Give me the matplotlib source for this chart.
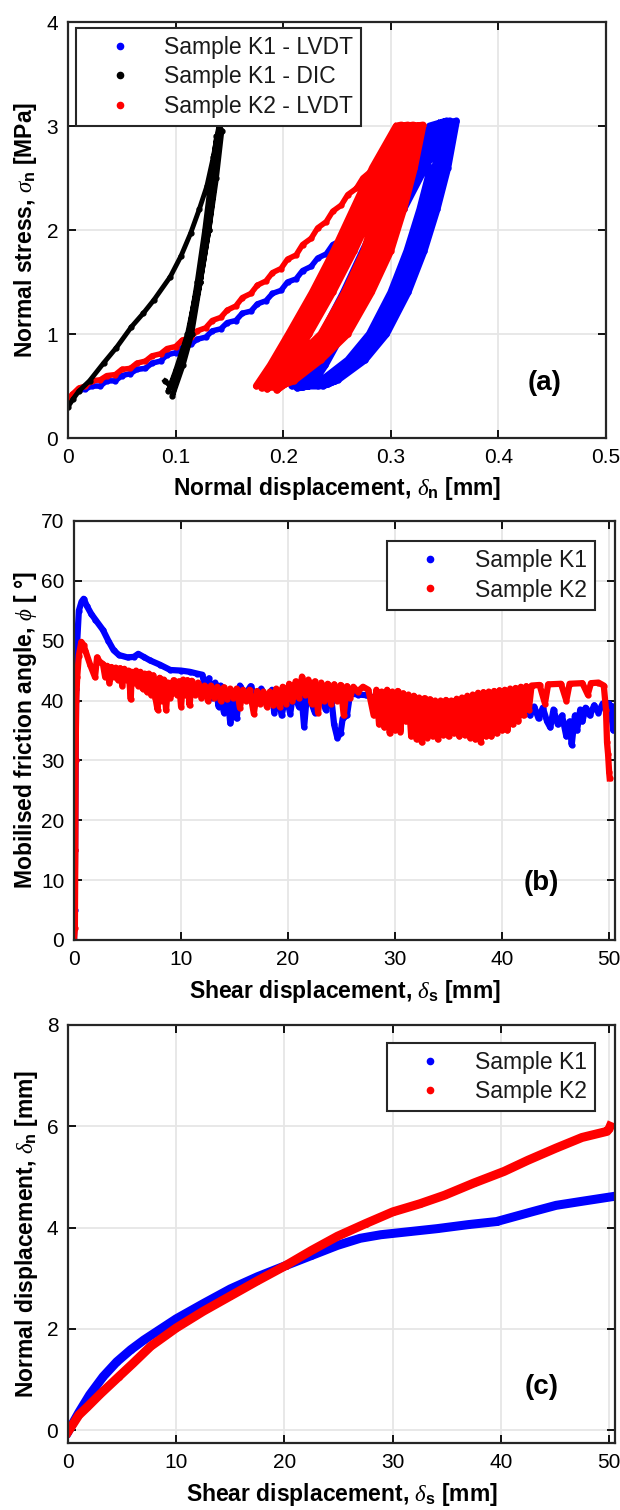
import matplotlib
matplotlib.use("Agg")
import matplotlib.pyplot as plt
from matplotlib.lines import Line2D

plt.rcParams['font.family'] = ['Liberation Sans', 'DejaVu Sans']
plt.rcParams['mathtext.fontset'] = 'custom'
plt.rcParams['mathtext.rm'] = 'Liberation Sans:bold'
plt.rcParams['mathtext.bf'] = 'Liberation Sans:bold'
plt.rcParams['mathtext.it'] = 'Liberation Serif:italic'

# --- (a) normal stress vs normal displacement ---
# K1 LVDT: first loading (stepped), then unload/reload loops
k1_load_x = [0.0, 0.004, 0.01, 0.016, 0.022, 0.03, 0.036, 0.044, 0.05, 0.058, 0.064, 0.072,
             0.078, 0.086, 0.092, 0.10, 0.106, 0.114, 0.12, 0.128, 0.134, 0.142, 0.148, 0.156,
             0.162, 0.17, 0.176, 0.184, 0.19, 0.198, 0.204, 0.212, 0.218, 0.226, 0.232, 0.24,
             0.246, 0.254, 0.26, 0.268, 0.274, 0.282, 0.30, 0.315, 0.33, 0.345]
k1_load_y = [0.35, 0.40, 0.46, 0.47, 0.50, 0.50, 0.55, 0.55, 0.60, 0.62, 0.66, 0.67,
             0.72, 0.74, 0.80, 0.82, 0.87, 0.90, 0.95, 0.97, 1.03, 1.05, 1.11, 1.13,
             1.20, 1.22, 1.29, 1.32, 1.39, 1.42, 1.50, 1.53, 1.61, 1.65, 1.73, 1.77,
             1.86, 1.90, 1.99, 2.03, 2.12, 2.17, 2.42, 2.60, 2.82, 3.03]
k1_loop_x = [0.337, 0.327, 0.315, 0.300, 0.280, 0.260, 0.235, 0.218, 0.208,
             0.220, 0.236, 0.256, 0.274, 0.293, 0.313, 0.336, 0.349,
             0.341, 0.331, 0.319, 0.304, 0.284, 0.264, 0.239, 0.223, 0.213,
             0.225, 0.241, 0.261, 0.279, 0.298, 0.318, 0.341, 0.352,
             0.344, 0.334, 0.322, 0.307, 0.287, 0.267, 0.242, 0.228, 0.218,
             0.230, 0.246, 0.266, 0.284, 0.303, 0.323, 0.346, 0.355,
             0.347, 0.337, 0.325, 0.310, 0.290, 0.270, 0.245, 0.232, 0.222,
             0.234, 0.250, 0.270, 0.288, 0.307, 0.327, 0.350, 0.358,
             0.350, 0.340, 0.328, 0.313, 0.293, 0.273, 0.248, 0.237, 0.227,
             0.239, 0.255, 0.275, 0.293, 0.312, 0.332, 0.354, 0.361,
             0.353, 0.343, 0.331, 0.316, 0.296, 0.276, 0.251, 0.242, 0.232]
k1_loop_y = [2.60, 2.20, 1.80, 1.40, 1.00, 0.75, 0.55, 0.52, 0.50,
             0.70, 1.00, 1.40, 1.80, 2.20, 2.60, 3.00, 3.04,
             2.60, 2.20, 1.80, 1.40, 1.00, 0.75, 0.55, 0.50, 0.48,
             0.70, 1.00, 1.40, 1.80, 2.20, 2.60, 3.00, 3.05,
             2.60, 2.20, 1.80, 1.40, 1.00, 0.75, 0.55, 0.51, 0.49,
             0.70, 1.00, 1.40, 1.80, 2.20, 2.60, 3.00, 3.05,
             2.60, 2.20, 1.80, 1.40, 1.00, 0.75, 0.55, 0.50, 0.50,
             0.70, 1.00, 1.40, 1.80, 2.20, 2.60, 3.00, 3.04,
             2.60, 2.20, 1.80, 1.40, 1.00, 0.75, 0.55, 0.50, 0.51,
             0.70, 1.00, 1.40, 1.80, 2.20, 2.60, 3.00, 3.05,
             2.60, 2.20, 1.80, 1.40, 1.00, 0.75, 0.56, 0.52, 0.52]

# K1 DIC
dic_x = [0.0, 0.005, 0.01, 0.02, 0.033, 0.045, 0.059, 0.07, 0.08, 0.095, 0.105, 0.114,
         0.122, 0.129, 0.135, 0.140,
         0.137, 0.131, 0.123, 0.113, 0.103, 0.097,
         0.107, 0.115, 0.123, 0.129, 0.135, 0.141,
         0.136, 0.129, 0.121, 0.111, 0.100, 0.093,
         0.103, 0.112, 0.120, 0.127, 0.133, 0.138, 0.143,
         0.138, 0.131, 0.123, 0.113, 0.104, 0.095, 0.090]
dic_y = [0.30, 0.38, 0.45, 0.55, 0.72, 0.87, 1.07, 1.20, 1.33, 1.55, 1.75, 1.97,
         2.20, 2.42, 2.70, 2.99,
         2.50, 2.00, 1.50, 1.00, 0.65, 0.40,
         0.70, 1.00, 1.50, 2.00, 2.50, 2.97,
         2.50, 2.00, 1.50, 1.00, 0.65, 0.45,
         0.70, 1.00, 1.50, 2.00, 2.50, 2.90, 2.95,
         2.50, 2.00, 1.50, 1.00, 0.70, 0.50, 0.55]

# K2 LVDT
k2_load_x = [0.0, 0.004, 0.01, 0.016, 0.022, 0.03, 0.036, 0.044, 0.05, 0.058, 0.064, 0.072,
             0.078, 0.086, 0.092, 0.10, 0.106, 0.114, 0.12, 0.128, 0.134, 0.142, 0.148, 0.156,
             0.162, 0.17, 0.176, 0.184, 0.19, 0.198, 0.204, 0.212, 0.218, 0.226, 0.232, 0.24,
             0.246, 0.254, 0.26, 0.268, 0.274, 0.282, 0.29, 0.298, 0.305]
k2_load_y = [0.36, 0.42, 0.48, 0.50, 0.55, 0.56, 0.60, 0.61, 0.66, 0.67, 0.72, 0.74,
             0.79, 0.81, 0.86, 0.88, 0.94, 0.97, 1.03, 1.06, 1.13, 1.16, 1.23, 1.27,
             1.35, 1.39, 1.47, 1.51, 1.59, 1.63, 1.72, 1.76, 1.86, 1.92, 2.02, 2.08,
             2.18, 2.24, 2.34, 2.40, 2.50, 2.57, 2.72, 2.86, 3.00]
k2_loop_x = [0.297, 0.287, 0.275, 0.257, 0.235, 0.210, 0.185, 0.175,
             0.188, 0.205, 0.227, 0.247, 0.265, 0.283, 0.305, 0.310,
             0.302, 0.292, 0.280, 0.262, 0.240, 0.215, 0.190, 0.180,
             0.193, 0.210, 0.232, 0.252, 0.270, 0.288, 0.310, 0.316,
             0.308, 0.298, 0.286, 0.268, 0.246, 0.221, 0.196, 0.185,
             0.198, 0.215, 0.237, 0.257, 0.275, 0.293, 0.315, 0.321,
             0.313, 0.303, 0.291, 0.273, 0.251, 0.226, 0.201, 0.190,
             0.203, 0.220, 0.242, 0.262, 0.280, 0.298, 0.320, 0.326,
             0.318, 0.308, 0.296, 0.278, 0.256, 0.231, 0.206, 0.194,
             0.207, 0.224, 0.246, 0.266, 0.284, 0.302, 0.324, 0.330,
             0.322, 0.312, 0.300, 0.282, 0.260, 0.235, 0.210, 0.197]
k2_loop_y = [2.60, 2.20, 1.80, 1.40, 1.00, 0.75, 0.55, 0.50,
             0.70, 1.00, 1.40, 1.80, 2.20, 2.60, 3.00, 3.01,
             2.60, 2.20, 1.80, 1.40, 1.00, 0.75, 0.55, 0.48,
             0.70, 1.00, 1.40, 1.80, 2.20, 2.60, 3.00, 3.01,
             2.60, 2.20, 1.80, 1.40, 1.00, 0.75, 0.55, 0.47,
             0.70, 1.00, 1.40, 1.80, 2.20, 2.60, 3.00, 3.01,
             2.60, 2.20, 1.80, 1.40, 1.00, 0.75, 0.55, 0.49,
             0.70, 1.00, 1.40, 1.80, 2.20, 2.60, 3.00, 3.00,
             2.60, 2.20, 1.80, 1.40, 1.00, 0.75, 0.55, 0.46,
             0.70, 1.00, 1.40, 1.80, 2.20, 2.60, 3.00, 3.01,
             2.60, 2.20, 1.80, 1.40, 1.00, 0.75, 0.55, 0.50]

# --- (b) mobilised friction angle vs shear displacement (x [mm], phi [deg]) ---
phi_k1 = [(0, 0), (0.05, 5), (0.1, 15), (0.15, 30), (0.2, 42), (0.3, 50), (0.45, 55),
          (0.7, 56.5), (0.9, 57), (1.2, 55.8), (1.6, 54.5), (2.0, 53.5), (2.7, 51.8),
          (3.2, 50.0), (3.7, 48.4), (4.2, 47.6), (5.0, 47.2), (5.6, 47.3), (6.0, 47.8),
          (6.5, 47.3), (7.1, 46.7), (8.0, 46.0), (9.0, 45.1), (10.0, 45.0), (10.8, 44.8),
          (11.5, 44.5), (12.0, 44.3), (12.3, 41.5), (12.6, 43.7), (12.9, 40.5), (13.2, 43.0),
          (13.5, 39.0), (13.7, 42.5), (14.0, 38.0), (14.3, 41.5), (14.6, 36.2), (14.9, 40.5),
          (15.2, 37.0), (15.5, 42.5), (16.0, 41.0), (16.5, 42.4), (17.0, 40.5), (17.5, 42.0),
          (18.0, 40.0), (18.5, 41.8), (18.7, 38.0), (19.0, 41.5), (19.4, 37.5), (19.8, 41.0),
          (20.2, 37.8), (20.5, 41.5), (21.0, 39.0), (21.2, 42.0), (21.5, 35.6), (21.8, 41.8),
          (22.2, 39.5), (22.5, 38.0), (23.0, 41.5), (23.5, 38.5), (24.0, 41.0), (24.3, 36.0),
          (24.6, 33.8), (24.9, 34.5), (25.1, 37.0), (25.5, 37.5), (25.8, 41.2), (26.5, 41.0),
          (27.3, 40.9), (28.0, 40.5), (29.0, 38.0), (30.0, 40.0), (30.5, 36.0), (31.0, 40.0),
          (35.0, 39.5), (40.0, 40.0), (42.3, 39.5), (42.6, 37.5), (43.0, 39.0), (43.4, 37.0),
          (43.8, 38.8), (44.2, 36.5), (44.5, 35.5), (44.8, 38.5), (45.2, 36.0), (45.6, 37.5),
          (46.0, 34.0), (46.3, 36.5), (46.5, 32.6), (46.8, 37.5), (47.0, 35.0), (47.3, 38.5),
          (47.5, 36.5), (47.8, 38.8), (48.2, 37.5), (48.6, 39.2), (49.0, 38.0), (49.4, 39.5),
          (50.0, 39.5), (50.2, 37.5), (50.4, 35.0), (50.5, 39.0)]

phi_k2 = [(0, 0), (0.08, 2), (0.12, 15), (0.15, 30), (0.2, 40), (0.3, 44), (0.45, 47.5),
          (0.68, 49.8), (0.9, 49.2), (1.07, 48.3), (1.5, 46.0), (1.96, 43.9), (2.15, 47.2),
          (2.4, 46.5), (2.7, 46.1), (2.9, 44.0), (3.1, 45.8), (3.3, 43.0), (3.5, 45.6),
          (3.7, 44.0), (3.9, 45.5), (4.1, 43.5), (4.3, 45.4), (4.5, 42.5), (4.7, 45.3),
          (4.9, 43.5), (5.1, 45.0), (5.3, 40.2), (5.4, 44.8), (5.6, 43.0), (5.8, 45.0),
          (6.0, 42.5), (6.2, 44.8), (6.4, 42.0), (6.6, 44.5), (6.8, 41.5), (7.0, 44.5),
          (7.2, 41.0), (7.4, 44.2), (7.6, 40.5), (7.8, 38.5), (8.0, 43.8), (8.2, 40.0),
          (8.4, 43.5), (8.6, 38.4), (8.8, 43.0), (9.0, 40.5), (9.3, 43.4), (9.6, 41.0),
          (9.8, 43.2), (10.0, 39.0), (10.2, 43.5), (10.4, 41.0), (10.6, 43.4), (10.8, 39.2),
          (11.0, 43.3), (11.3, 41.0), (11.6, 43.0), (11.9, 40.5), (12.2, 42.5), (12.5, 40.0),
          (12.8, 42.5), (13.1, 40.5), (13.4, 42.3), (13.7, 40.0), (14.0, 42.2), (14.3, 40.2),
          (14.6, 42.0), (14.9, 40.5), (15.2, 42.0), (15.5, 38.8), (15.8, 41.8), (16.1, 40.0),
          (16.4, 41.8), (16.8, 37.8), (17.1, 41.6), (17.4, 39.5), (17.7, 41.5), (18.0, 39.0),
          (18.3, 41.5), (18.6, 39.2), (18.9, 42.0), (19.2, 39.0), (19.5, 42.3), (19.8, 39.5),
          (20.1, 42.8), (20.4, 40.0), (20.7, 43.2), (21.0, 40.5), (21.3, 44.0), (21.6, 41.0),
          (21.9, 43.5), (22.2, 39.5), (22.5, 43.2), (22.8, 38.0), (23.1, 43.0), (23.4, 40.0),
          (23.7, 42.8), (24.0, 39.5), (24.3, 42.7), (24.6, 40.0), (24.9, 42.6), (25.2, 37.5),
          (25.5, 42.4), (25.8, 40.5), (26.1, 42.3), (26.5, 41.5), (27.0, 42.3), (27.5, 41.8),
          (28.0, 37.5), (28.25, 41.8), (28.5, 36.0), (28.75, 41.5), (29.0, 35.5), (29.25, 41.8),
          (29.5, 34.5), (29.75, 41.5), (30.0, 35.0), (30.25, 41.6), (30.5, 34.8), (30.75, 41.2),
          (31.0, 36.5), (31.25, 41.0), (31.5, 34.0), (31.75, 40.8), (32.0, 33.5), (32.25, 40.5),
          (32.5, 33.0), (32.75, 40.4), (33.0, 33.8), (33.25, 40.2), (33.5, 34.0), (33.75, 40.0),
          (34.0, 33.5), (34.25, 40.0), (34.5, 34.2), (34.75, 40.1), (35.0, 34.0), (35.25, 40.0),
          (35.5, 34.5), (35.75, 40.3), (36.0, 34.0), (36.25, 40.5), (36.5, 34.2), (36.75, 40.8),
          (37.0, 33.8), (37.25, 41.0), (37.5, 33.5), (37.75, 41.3), (38.0, 33.0), (38.25, 41.4),
          (38.5, 34.0), (38.75, 41.5), (39.0, 34.0), (39.25, 41.6), (39.5, 34.5), (39.75, 41.7),
          (40.0, 35.0), (40.25, 41.8), (40.5, 35.0), (40.75, 42.0), (41.0, 36.0), (41.25, 42.1),
          (41.5, 36.5), (41.75, 42.3), (42.0, 37.5), (42.25, 42.4), (42.5, 38.5), (42.75, 42.5),
          (43.5, 42.6), (44.0, 39.5), (44.3, 42.7), (45.5, 42.8), (46.0, 40.0), (46.3, 42.8),
          (47.5, 42.9), (48.0, 41.0), (48.3, 42.9), (49.0, 43.0), (49.5, 42.5), (49.7, 38.5),
          (49.8, 33.0), (49.9, 31.0), (50.0, 28.0), (50.05, 27.0)]

# --- (c) normal displacement vs shear displacement ---
dn_k1_x = [0.0, 1.0, 2.0, 3.25, 4.5, 5.8, 7.0, 8.0, 10.0, 12.5, 15.0, 17.5, 20.1, 22.5,
           24.9, 27.0, 28.9, 31.5, 34.1, 37.0, 39.6, 41.3, 43.0, 45.1, 47.5, 50.55]
dn_k1_y = [-0.03, 0.35, 0.70, 1.06, 1.35, 1.59, 1.78, 1.92, 2.20, 2.50, 2.79, 3.03, 3.25,
           3.45, 3.65, 3.79, 3.86, 3.92, 3.98, 4.06, 4.12, 4.22, 4.32, 4.44, 4.52, 4.62]
dn_k2_x = [0.0, 1.0, 1.78, 3.0, 4.7, 6.0, 7.65, 10.0, 12.5, 15.0, 17.5, 20.1, 22.5, 24.9,
           27.5, 30.0, 32.5, 34.8, 37.5, 40.3, 42.5, 45.1, 47.5, 49.8, 50.0, 50.1]
dn_k2_y = [-0.03, 0.30, 0.46, 0.72, 1.06, 1.32, 1.66, 2.02, 2.35, 2.65, 2.95, 3.25, 3.55,
           3.83, 4.08, 4.31, 4.47, 4.64, 4.88, 5.11, 5.33, 5.57, 5.78, 5.90, 5.95, 6.00]

BLUE = (0, 0, 1)
RED = (1, 0, 0)
SPINE = '#262626'


def style_axes(ax):
    ax.grid(True, color='#e6e6e6', linewidth=1.3)
    ax.set_axisbelow(True)
    ax.tick_params(direction='in', top=True, right=True, length=6, width=1.3,
                   labelsize=15, pad=7, colors='black')
    for s in ax.spines.values():
        s.set_color(SPINE)
        s.set_linewidth(1.6)


def dot_legend(ax, labels, colors, anchor, loc):
    handles = [Line2D([], [], ls='', marker='.', ms=9, color=c) for c in colors]
    leg = ax.legend(handles, labels, loc=loc, bbox_to_anchor=anchor, fontsize=16.5,
                    handlelength=3.1, handletextpad=0.4, labelspacing=0.28,
                    borderpad=0.35, borderaxespad=0, fancybox=False, framealpha=1)
    leg.get_frame().set_edgecolor(SPINE)
    leg.get_frame().set_linewidth(1.5)
    for t in leg.get_texts():
        t.set_color('#1a1a1a')


fig = plt.figure(figsize=(6.2, 15.1), dpi=100)

# (a)
ax = fig.add_axes([0.1097, 0.7099, 0.8677, 0.2755])
style_axes(ax)
ax.plot(k1_load_x, k1_load_y, '.-', color=BLUE, lw=4, ms=7)
ax.plot(k1_loop_x, k1_loop_y, '.-', color=BLUE, lw=5, ms=7)
ax.plot(k2_load_x, k2_load_y, '.-', color=RED, lw=4, ms=7)
ax.plot(k2_loop_x, k2_loop_y, '.-', color=RED, lw=5, ms=7)
ax.plot(dic_x, dic_y, '.-', color='black', lw=3.5, ms=7)
ax.set_xlim(0, 0.5)
ax.set_ylim(0, 4)
ax.set_xticks([0, 0.1, 0.2, 0.3, 0.4, 0.5])
ax.set_xticklabels(['0', '0.1', '0.2', '0.3', '0.4', '0.5'])
ax.set_yticks([0, 1, 2, 3, 4])
ax.set_xlabel(r'Normal displacement, $\delta_{\rm n}$ [mm]', fontsize=16.5, fontweight='bold')
ax.set_ylabel(r'Normal stress, $\sigma_{\rm n}$ [MPa]', fontsize=16.5, fontweight='bold')
ax.xaxis.set_label_coords(0.5, -0.09)
ax.yaxis.set_label_coords(-0.054, 0.5)
ax.text(0.443, 0.53, '(a)', fontsize=20, fontweight='bold', ha='center', va='center')
dot_legend(ax, ['Sample K1 - LVDT', 'Sample K1 - DIC', 'Sample K2 - LVDT'],
           [BLUE, 'black', RED], (0.015, 0.986), 'upper left')

# (b)
ax = fig.add_axes([0.1194, 0.3775, 0.8726, 0.2775])
style_axes(ax)
ax.plot([p[0] for p in phi_k1], [p[1] for p in phi_k1], '.-', color=BLUE, lw=4.5, ms=7)
ax.plot([p[0] for p in phi_k2], [p[1] for p in phi_k2], '.-', color=RED, lw=4.5, ms=7)
ax.set_xlim(0, 50.55)
ax.set_ylim(0, 70)
ax.set_xticks([0, 10, 20, 30, 40, 50])
ax.set_yticks([0, 10, 20, 30, 40, 50, 60, 70])
ax.set_xlabel(r'Shear displacement, $\delta_{\rm s}$ [mm]', fontsize=16.5, fontweight='bold')
ax.set_ylabel(r'Mobilised friction angle, $\phi$ [ °]', fontsize=16.5, fontweight='bold')
ax.xaxis.set_label_coords(0.5, -0.09)
ax.yaxis.set_label_coords(-0.064, 0.5)
ax.text(43.7, 9.5, '(b)', fontsize=20, fontweight='bold', ha='center', va='center')
dot_legend(ax, ['Sample K1', 'Sample K2'], [BLUE, RED], (0.963, 0.952), 'upper right')

# (c)
ax = fig.add_axes([0.1097, 0.0444, 0.8823, 0.2768])
style_axes(ax)
ax.plot(dn_k1_x, dn_k1_y, '.-', color=BLUE, lw=6.5, ms=8)
ax.plot(dn_k2_x, dn_k2_y, '.-', color=RED, lw=6.5, ms=8)
ax.set_xlim(0, 50.55)
ax.set_ylim(-0.25, 8)
ax.set_xticks([0, 10, 20, 30, 40, 50])
ax.set_yticks([0, 2, 4, 6, 8])
ax.set_xlabel(r'Shear displacement, $\delta_{\rm s}$ [mm]', fontsize=16.5, fontweight='bold')
ax.set_ylabel(r'Normal displacement, $\delta_{\rm n}$ [mm]', fontsize=16.5, fontweight='bold')
ax.xaxis.set_label_coords(0.5, -0.09)
ax.yaxis.set_label_coords(-0.052, 0.5)
ax.text(43.8, 0.86, '(c)', fontsize=20, fontweight='bold', ha='center', va='center')
dot_legend(ax, ['Sample K1', 'Sample K2'], [BLUE, RED], (0.963, 0.957), 'upper right')

fig.savefig('out.png', dpi=100)
